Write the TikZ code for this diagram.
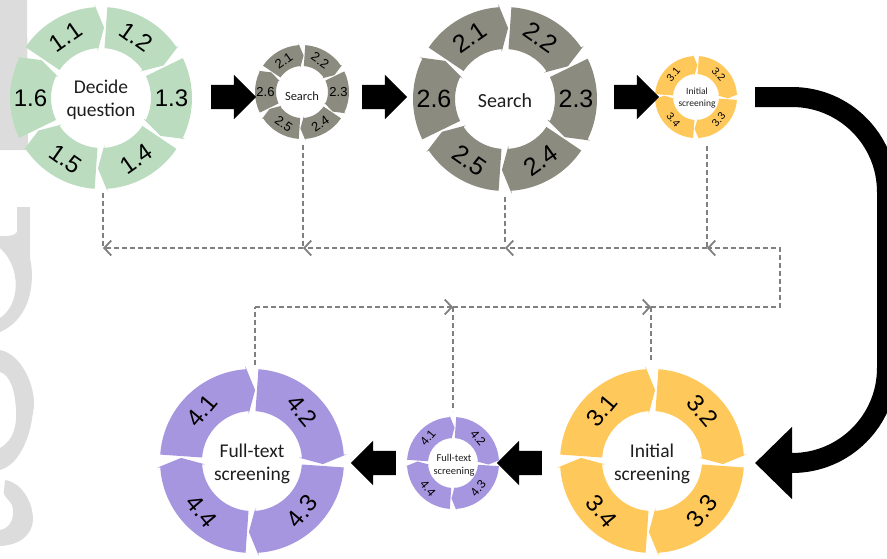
\documentclass[tikz,border=0pt]{standalone}
\usepackage{fontspec}
\setmainfont{Liberation Sans}
\newfontfamily\capfont{Carlito}
\usetikzlibrary{shapes.arrows,arrows.meta}

\definecolor{ringgreen}{RGB}{187,220,190}
\definecolor{ringgrey}{RGB}{140,139,127}
\definecolor{ringyellow}{RGB}{255,200,90}
\definecolor{ringpurple}{RGB}{166,150,224}
\definecolor{feedgrey}{RGB}{128,128,128}
\definecolor{captext}{RGB}{30,30,30}
\definecolor{markgrey}{RGB}{220,220,220}

% A ring of n curved block arrows running clockwise.
% #1,#2 centre; #3 inner radius; #4 outer radius; #5 colour; #6 number of segments
\newcommand\segring[6]{%
  \foreach \sgK in {1,...,#6} {
    \pgfmathsetmacro\sgStep{360/#6}
    \pgfmathsetmacro\sgE{(\sgK-1)*\sgStep-90}
    \pgfmathsetmacro\sgS{\sgE-\sgStep+4}
    \pgfmathsetmacro\sgB{\sgE-4}
    \pgfmathsetmacro\sgT{\sgE+2.5}
    \pgfmathsetmacro\sgM{(#3+#4)/2}
    \pgfmathsetmacro\sgX{0.03*#4}
    \pgfmathsetmacro\sgO{#4+\sgX}
    \pgfmathsetmacro\sgI{#3-\sgX}
    \fill[#5, shift={(#1,#2)}] (\sgS:#4) arc[start angle=\sgS, end angle=\sgB, radius=#4]
      -- (\sgB:\sgO) -- (\sgT:\sgM) -- (\sgB:\sgI) -- (\sgB:#3)
      arc[start angle=\sgB, end angle=\sgS, radius=#3] -- cycle;
  }}

\tikzset{
  centretext/.style={align=center, inner sep=0pt, text=captext},
  bignum/.style={font=\fontsize{24}{24}\selectfont},
  blockarrow/.style={single arrow, fill=black, draw=none, inner xsep=0pt, inner ysep=12pt,
    minimum height=45pt, single arrow head extend=10pt, single arrow tip angle=90},
  feedback/.style={draw=feedgrey, line width=1.8pt, dash pattern=on 5pt off 3pt},
  chev/.style={-{Straight Barb[length=7pt,width=15pt,line width=1.8pt]}}
}

\begin{document}
\begin{tikzpicture}[x=1pt,y=-1pt]
\useasboundingbox (0,0) rectangle (887,558);

% ---- faint marks along the left edge ----
\begin{scope}
  \clip (0,0) rectangle (40,558);
  \fill[markgrey] (0,0) -- (27,0) -- (28,150) -- (0,150) -- cycle;
  \fill[markgrey] (17,207) -- (30,207) -- (30,258)
    .. controls (35,280) and (32,318) .. (0,332) -- (0,318)
    .. controls (20,305) and (22,268) .. (0,248) -- (0,236)
    .. controls (8,236) and (15,236) .. (17,232) -- cycle;
  \fill[markgrey] (0,350) .. controls (25,355) and (38,395) .. (33,412)
    .. controls (30,440) and (18,465) .. (0,470) -- (0,448)
    .. controls (14,440) and (17,425) .. (16,410)
    .. controls (15,390) and (10,375) .. (0,372) -- cycle;
  \fill[markgrey] (5,480) .. controls (20,482) and (33,500) .. (33,520)
    .. controls (32,535) and (20,545) .. (0,546) -- (0,530)
    .. controls (12,528) and (15,515) .. (12,505)
    .. controls (8,498) and (3,497) .. (4,490) -- cycle;
\end{scope}

% ---- stage rings ----
\segring{101}{98}{50}{91}{ringgreen}{6}
\segring{302}{92}{26}{47}{ringgrey}{6}
\segring{505}{99}{50}{92}{ringgrey}{6}
\segring{696}{97}{23}{41}{ringyellow}{4}
\segring{652}{461}{50}{92}{ringyellow}{4}
\segring{453}{463}{25}{46}{ringpurple}{4}
\segring{252}{461}{50}{92}{ringpurple}{4}

% ---- segment numbers ----
\node[bignum, rotate=35] (g1) at (65.75,36.94) {1.1};
\node[bignum, rotate=-35] (g2) at (136.25,36.94) {1.2};
\node[bignum] (g3) at (171.5,98) {1.3};
\node[bignum, rotate=35] (g4) at (136.25,159.06) {1.4};
\node[bignum, rotate=-35] (g5) at (65.75,159.06) {1.5};
\node[bignum] (g6) at (30.5,98) {1.6};

\node[font=\fontsize{13}{13}\selectfont, rotate=35] (sa1) at (283.75,60.39) {2.1};
\node[font=\fontsize{13}{13}\selectfont, rotate=-35] (sa2) at (320.25,60.39) {2.2};
\node[font=\fontsize{13}{13}\selectfont] (sa3) at (338.5,92) {2.3};
\node[font=\fontsize{13}{13}\selectfont, rotate=35] (sa4) at (320.25,123.61) {2.4};
\node[font=\fontsize{13}{13}\selectfont, rotate=-35] (sa5) at (283.75,123.61) {2.5};
\node[font=\fontsize{13}{13}\selectfont] (sa6) at (265.5,92) {2.6};

\node[font=\fontsize{25}{25}\selectfont, rotate=35] (sb1) at (469.5,37.51) {2.1};
\node[font=\fontsize{25}{25}\selectfont, rotate=-35] (sb2) at (540.5,37.51) {2.2};
\node[font=\fontsize{25}{25}\selectfont] (sb3) at (576,99) {2.3};
\node[font=\fontsize{25}{25}\selectfont, rotate=35] (sb4) at (540.5,160.49) {2.4};
\node[font=\fontsize{25}{25}\selectfont, rotate=-35] (sb5) at (469.5,160.49) {2.5};
\node[font=\fontsize{25}{25}\selectfont] (sb6) at (434,99) {2.6};

\node[font=\fontsize{10.5}{10.5}\selectfont, rotate=50] (ia1) at (673.37,74.37) {3.1};
\node[font=\fontsize{10.5}{10.5}\selectfont, rotate=-50] (ia2) at (718.63,74.37) {3.2};
\node[font=\fontsize{10.5}{10.5}\selectfont, rotate=50] (ia3) at (718.63,119.63) {3.3};
\node[font=\fontsize{10.5}{10.5}\selectfont, rotate=-50] (ia4) at (673.37,119.63) {3.4};

\node[bignum, rotate=50] (ib1) at (601.8,410.8) {3.1};
\node[bignum, rotate=-50] (ib2) at (702.2,410.8) {3.2};
\node[bignum, rotate=50] (ib3) at (702.2,511.2) {3.3};
\node[bignum, rotate=-50] (ib4) at (601.8,511.2) {3.4};

\node[font=\fontsize{12}{12}\selectfont, rotate=50] (fa1) at (427.9,437.9) {4.1};
\node[font=\fontsize{12}{12}\selectfont, rotate=-50] (fa2) at (478.1,437.9) {4.2};
\node[font=\fontsize{12}{12}\selectfont, rotate=50] (fa3) at (478.1,488.1) {4.3};
\node[font=\fontsize{12}{12}\selectfont, rotate=-50] (fa4) at (427.9,488.1) {4.4};

\node[bignum, rotate=50] (fb1) at (201.8,410.8) {4.1};
\node[bignum, rotate=-50] (fb2) at (302.2,410.8) {4.2};
\node[bignum, rotate=50] (fb3) at (302.2,511.2) {4.3};
\node[bignum, rotate=-50] (fb4) at (201.8,511.2) {4.4};

% ---- ring captions ----
\node[centretext, font=\capfont\fontsize{19.5}{23.5}\selectfont] (decide) at (101,100) {Decide\\question};
\node[centretext, font=\capfont\fontsize{12.5}{14}\selectfont] (searchA) at (302,96) {Search};
\node[centretext, font=\capfont\fontsize{20}{24}\selectfont] (searchB) at (505,101) {Search};
\node[centretext, font=\capfont\fontsize{9.5}{11.5}\selectfont] (initA) at (697,98) {Initial\\screening};
\node[centretext, font=\capfont\fontsize{19.5}{23.5}\selectfont] (initB) at (652,464) {Initial\\screening};
\node[centretext, font=\capfont\fontsize{10.5}{12.5}\selectfont] (fullA) at (454,465) {Full-text\\screening};
\node[centretext, font=\capfont\fontsize{19.5}{23.5}\selectfont] (fullB) at (252,464) {Full-text\\screening};

% ---- block arrows between stages ----
\node[blockarrow] (arA) at (227.5,97) {};
\node[blockarrow] (arB) at (378.5,97) {};
\node[blockarrow] (arC) at (630.5,97) {};
\node[blockarrow, shape border rotate=180] (arD) at (525.5,463) {};
\node[blockarrow, shape border rotate=180] (arE) at (379.5,463) {};

% ---- large bent arrow down the right side ----
\coordinate (bendS) at (755,97);
\coordinate (bendC1) at (887,97);
\coordinate (bendC2) at (887,463);
\coordinate (bendE) at (755,463);
\draw[line width=20pt, rounded corners=95pt, -{Triangle[length=37pt,width=70pt]}]
  (bendS) -- (bendC1) -- (bendC2) -- (bendE);

% ---- dashed feedback loop ----
\coordinate (u1) at (103,193); \coordinate (u1j) at (103,248);
\coordinate (u2) at (303,145); \coordinate (u2j) at (303,248);
\coordinate (u3) at (505,197); \coordinate (u3e) at (505,242); \coordinate (u3j) at (505,248);
\coordinate (u4) at (707,146); \coordinate (u4j) at (707,248);
\coordinate (rc1) at (780,248); \coordinate (rc2) at (780,307);
\coordinate (l1) at (255,365); \coordinate (l1j) at (255,307);
\coordinate (l2) at (453,411); \coordinate (l2j) at (453,307);
\coordinate (l3) at (651,361); \coordinate (l3j) at (651,307);

\draw[feedback] (l1) -- (l1j);
\draw[feedback, chev] (l1j) -- (l2j);
\draw[feedback, chev] (l2j) -- (l3j);
\draw[feedback, chev] (l3j) -- (rc2) -- (rc1) -- (u4j);
\draw[feedback, chev] (u4j) -- (u3j);
\draw[feedback, chev] (u3j) -- (u2j);
\draw[feedback, chev] (u2j) -- (u1j);
\draw[feedback] (u1) -- (u1j);
\draw[feedback] (u2) -- (u2j);
\draw[feedback] (u3) -- (u3e);
\draw[feedback] (u4) -- (u4j);
\draw[feedback] (l2j) -- (l2);
\draw[feedback] (l3j) -- (l3);
\end{tikzpicture}
\end{document}
